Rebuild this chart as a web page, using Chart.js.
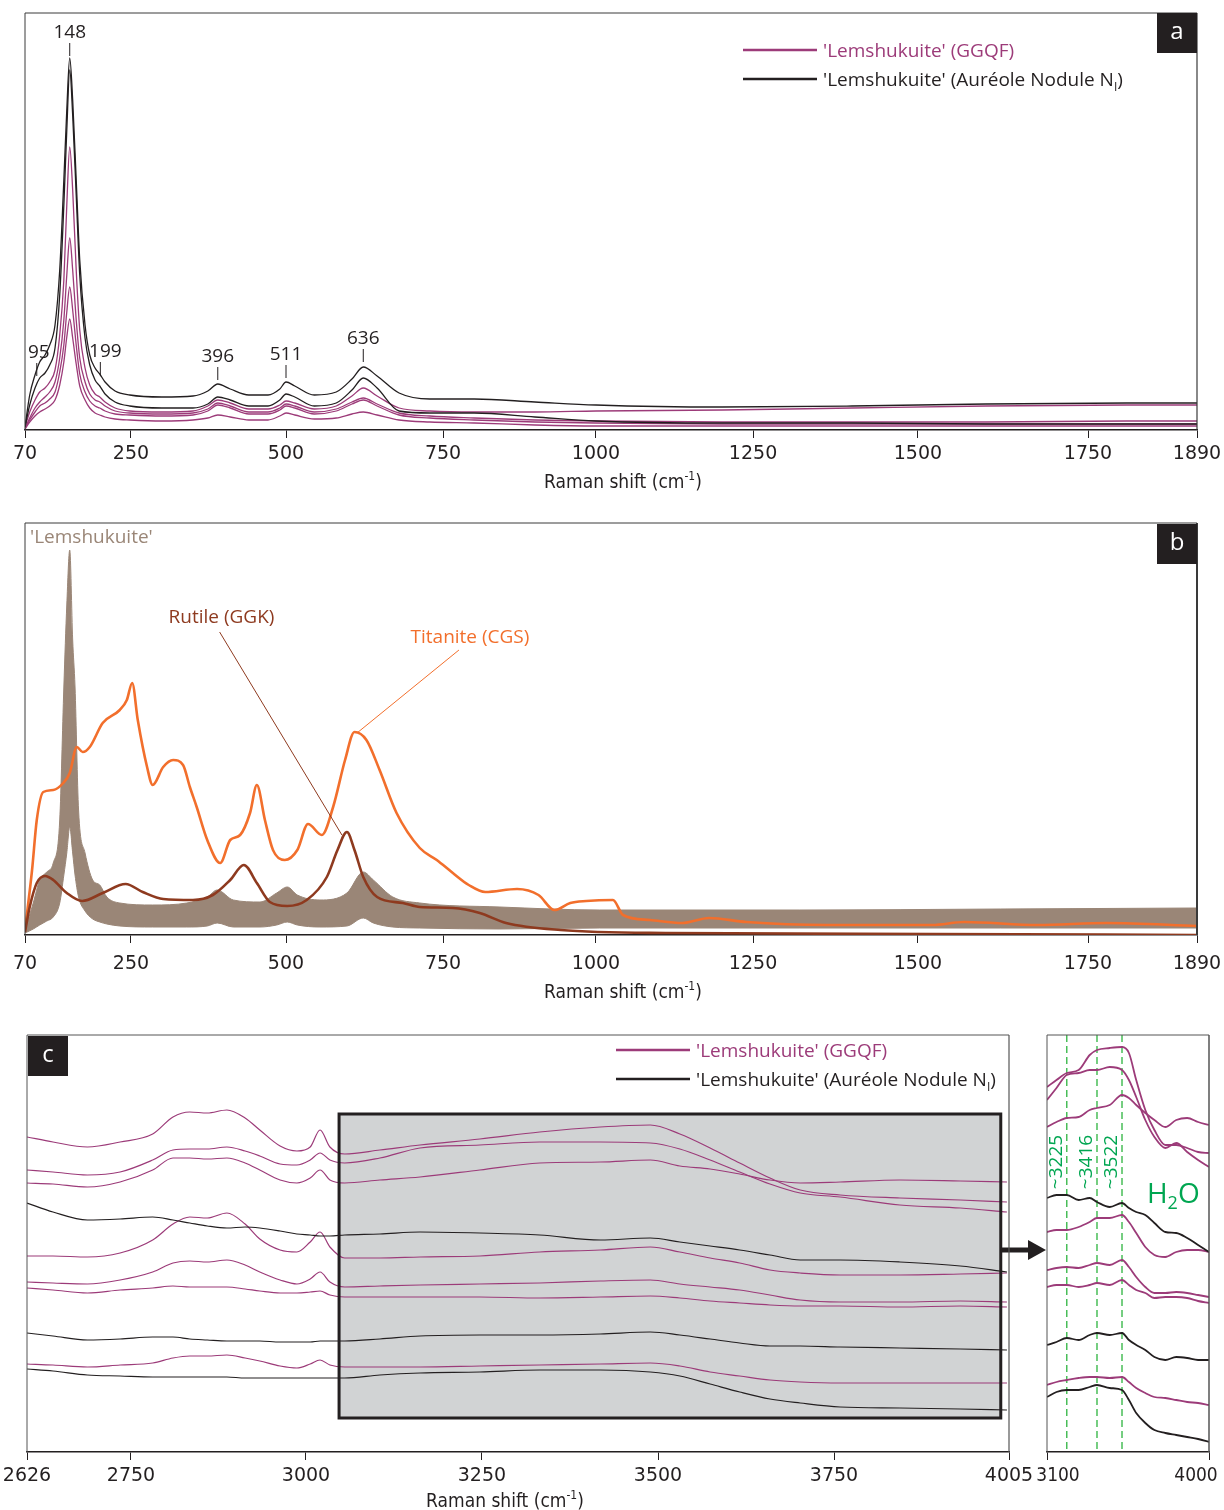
<!DOCTYPE html>
<html><head><meta charset="utf-8">
<script src="https://cdn.jsdelivr.net/npm/chart.js@4.4.1/dist/chart.umd.min.js"></script>
<style>
html,body{margin:0;padding:0;background:#fff;}
body{width:1224px;height:1510px;position:relative;overflow:hidden;}
canvas{position:absolute;}
</style></head><body>
<canvas id="ca" width="1224" height="500" style="left:0;top:0;width:1224px;height:500px"></canvas>
<canvas id="cb" width="1224" height="500" style="left:0;top:510px;width:1224px;height:500px"></canvas>
<canvas id="cc" width="1224" height="490" style="left:0;top:1020px;width:1224px;height:490px"></canvas>
<canvas id="cd" width="194" height="490" style="left:1030px;top:1020px;width:194px;height:490px"></canvas>
<script>
// ================= DATA =================
// tick labels
const ticksAB = [70, 250, 500, 750, 1000, 1250, 1500, 1750, 1890];
const ticksC = [2626, 2750, 3000, 3250, 3500, 3750, 4005];
const ticksInset = [3100, 4000];
const axisTitle = 'Raman shift (cm';

// ---- panel a : Raman shift (cm-1) and intensities (a.u.) ----
const shiftA = [70,78,87,95,104,112,121,129,136,141,146,151,157,163,172,180,189,197,206,223,248,300,350,374,390,410,440,471,490,500,514,545,580,605,623,645,680,729,801,900,1000,1201,1400,1600,1800,1890];
const aNodule1 = [3,35,55,68,75,85,105,160,250,320,372,330,250,170,105,75,62,56,48,39,35,33,34,39,46,41,35,35,41,48,44,35,38,51,63,54,37,31,31,28,25,23,24,26,27,27];
const aNodule2 = [3,25,42,52,57,65,82,135,225,300,360,315,235,155,92,65,50,44,36,28,24,22,22,26,33,30,24,24,30,36,33,24,27,40,52,42,19,17,17,13,9,7,7,6,6,6];
const aGGQF1 = [3,18,30,38,42,48,60,95,150,225,283,240,160,100,62,45,36,33,28,22,19,18,19,24,30,27,21,21,25,29,27,21,24,34,42,34,22,19,18,18,19,20,22,24,25,25];
const aGGQF2 = [2,12,22,28,33,38,48,72,110,155,192,160,110,72,48,36,30,28,24,19,17,16,17,21,27,24,18,18,22,26,24,18,21,28,32,26,17,14,12,10,9,8,8,8,9,9];
const aGGQF3 = [2,10,18,24,27,31,38,58,85,118,143,120,85,56,38,29,24,22,19,16,15,14,15,19,25,22,16,16,20,24,22,16,19,26,30,24,15,12,10,8,7,6,6,6,6,6];
const aGGQF4 = [1,8,14,18,21,24,30,45,68,93,111,92,66,44,30,22,17,15,13,11,10,9,10,12,15,13,10,10,14,17,15,11,12,16,18,15,10,8,7,5,4,4,4,4,4,4];
const peakText = ['95', '148', '199', '396', '511', '636'];
const peakShift = [90, 146, 198, 390, 500, 623];
const peakLevel = [77, 397, 78, 73, 75, 91];

// ---- panel b ----
const shiftBand = [70,84,95,107,118,129,136,141,146,151,155,161,172,185,197,209,231,285,340,373,389,415,458,485,502,518,554,597,623,639,670,713,843,1006,1321,1621,1890];
const lemMax = [5,32,55,63,72,115,248,330,385,295,248,125,82,55,50,38,32,30,32,38,45,35,33,42,48,40,35,42,63,55,38,32,28,25,25,26,27];
const lemMin = [2,6,10,14,18,32,60,82,108,82,60,38,24,16,13,11,9,8,8,9,12,8,8,10,13,10,8,9,17,12,8,7,6,7,7,7,7];
const shiftRutile = [70,78,90,104,118,141,167,202,241,269,302,350,382,410,432,453,474,502,533,565,582,597,609,623,645,686,713,766,810,853,942,1111,1521,1890];
const rutile = [3,28,52,59,55,42,34,42,51,43,36,35,40,55,70,52,33,29,35,58,85,103,85,58,38,32,28,27,22,12,5,2,1,0];
const shiftTitanite = [70,82,90,101,118,135,146,158,168,180,202,231,243,252,261,276,285,302,318,334,345,356,373,394,410,426,442,453,466,479,498,518,535,557,575,594,609,628,649,676,713,740,766,792,819,871,906,932,958,984,1027,1043,1086,1137,1180,1239,1361,1521,1568,1676,1774,1890];
const titanite = [5,65,115,143,145,152,162,188,183,188,212,225,235,252,215,168,150,168,175,170,148,128,95,72,95,100,122,150,115,85,75,85,111,100,128,175,203,195,165,122,87,75,62,50,43,46,40,25,32,34,35,20,15,12,17,13,10,10,13,10,12,9];

// ---- panel c (offset spectra, a.u.) ----
const shiftC = [2626,2657,2698,2737,2781,2810,2834,2859,2887,2913,2934,2963,2987,3006,3020,3034,3055,3105,3162,3247,3332,3418,3489,3531,3574,3616,3659,3702,3759,3846,3934,4002];
const cGGQF1 = [315,310,305,310,318,335,340,339,342,334,322,306,301,305,322,305,298,302,307,313,320,325,327,318,304,289,274,262,257,254,252,250];
const cGGQF2 = [282,280,277,280,292,302,303,303,305,301,296,288,287,292,299,292,289,294,304,307,310,310,309,303,292,280,268,259,255,247,244,240];
const cGGQF3 = [269,268,265,270,282,294,294,293,294,289,282,272,269,274,282,272,269,272,275,282,289,290,292,286,283,278,272,269,270,272,271,270];
const cNodule1 = [249,240,232,233,235,232,229,226,224,225,224,221,218,217,216,216,217,218,220,219,217,212,214,210,206,202,197,192,192,190,186,180];
const cGGQF4 = [196,196,195,199,212,228,235,234,239,228,213,202,200,210,220,205,194,194,195,196,200,202,205,200,194,189,182,179,177,177,178,179];
const cGGQF5 = [170,169,168,172,180,189,191,190,192,187,180,172,168,173,180,170,165,166,167,168,169,171,172,168,165,162,157,152,150,150,151,150];
const cGGQF6 = [164,162,159,162,164,166,165,165,165,163,161,159,159,160,161,157,155,155,155,155,154,155,156,154,151,149,147,146,146,145,146,145];
const cNodule2 = [119,116,112,113,115,115,113,112,111,111,111,110,110,110,111,111,111,113,116,117,117,118,120,117,113,109,106,106,105,104,103,102];
const cGGQF7 = [88,87,85,87,89,94,96,96,97,94,91,86,84,88,92,87,85,85,85,86,87,88,89,86,80,76,72,70,69,69,69,69];
const cNodule3 = [83,81,77,76,75,75,75,75,75,74,74,74,74,74,74,74,74,77,79,80,82,82,80,76,68,60,53,49,45,44,43,42];

// ---- panel c inset (H2O region, vertically expanded) ----
const shiftInset = [3100,3160,3225,3300,3370,3416,3470,3522,3560,3600,3650,3700,3760,3820,3880,3940,4000];
const iGGQF1 = [365,372,379,382,397,402,404,405,399,372,342,322,307,307,304,300,299];
const iGGQF2 = [352,364,377,379,382,382,385,382,372,355,332,315,304,309,300,292,285];
const iGGQF3 = [325,330,334,335,342,344,347,357,354,347,339,332,325,332,334,330,327];
const iNodule1 = [254,257,257,252,254,250,245,249,244,240,237,229,220,219,214,207,200];
const iGGQF4 = [220,222,222,225,230,234,234,237,230,219,205,197,195,200,202,202,200];
const iGGQF5 = [182,184,185,184,187,189,187,192,185,175,165,159,159,160,159,157,155];
const iGGQF6 = [165,167,167,165,167,169,167,172,167,162,159,154,155,155,154,151,149];
const iNodule2 = [107,110,114,112,117,119,117,119,112,107,102,95,92,95,94,92,92];
const iGGQF7 = [67,70,72,74,75,75,74,75,70,64,59,55,54,52,50,49,47];
const iNodule3 = [55,60,62,62,65,67,64,62,52,39,29,22,19,17,15,13,10];
const waterBands = [3225, 3416, 3522];
const waterText = ['~3225', '~3416', '~3522'];

// ================= STYLE / LAYOUT =================
const INK = '#231f20', MAG = '#9c3b79', TAUPE = '#9a8677', RUT = '#8e3a1f', TIT = '#f26f2c', GREEN = '#00a651', GDASH = '#3cb94c';
const NARROW = "'DejaVu Sans',sans-serif";
const SANS = "'Open Sans','Noto Sans',sans-serif";
Chart.defaults.font.family = SANS;

// axis tick pixel fractions as printed (the original axes are not uniformly spaced)
const WARP = {
  ca: {values: ticksAB, fr: [0, 0.0904, 0.2227, 0.3567, 0.4872, 0.6212, 0.7619, 0.9070, 1]},
  cb: {values: ticksAB, fr: [0, 0.0904, 0.2227, 0.3567, 0.4872, 0.6212, 0.7619, 0.9070, 1]},
  cc: {values: ticksC, fr: [0, 0.1059, 0.2841, 0.4633, 0.6426, 0.8218, 1]},
  cd: {values: [3100, 3416, 3522, 4000], fr: [0, 0.3086, 0.463, 1]}
};
function warpFrac(v, vals, fr) {
  const n = vals.length;
  let i = 1;
  while (i < n - 1 && v > vals[i]) i++;
  const t = (v - vals[i - 1]) / (vals[i] - vals[i - 1]);
  return fr[i - 1] + t * (fr[i] - fr[i - 1]);
}
function warpInv(f, vals, fr) {
  const n = fr.length;
  let i = 1;
  while (i < n - 1 && f > fr[i]) i++;
  const t = (f - fr[i - 1]) / (fr[i] - fr[i - 1]);
  return vals[i - 1] + t * (vals[i] - vals[i - 1]);
}
class WarpScale extends Chart.LinearScale {
  static id = 'warp';
  static defaults = Object.assign({}, Chart.LinearScale.defaults);
  getPixelForValue(value) {
    const w = WARP[this.chart.canvas.id];
    if (!w || value === null || value === undefined || isNaN(value)) return super.getPixelForValue(value);
    return this.getPixelForDecimal(warpFrac(value, w.values, w.fr));
  }
  getValueForPixel(pixel) {
    const w = WARP[this.chart.canvas.id];
    if (!w) return super.getValueForPixel(pixel);
    return warpInv(this.getDecimalForPixel(pixel), w.values, w.fr);
  }
}
Chart.register(WarpScale);

function series(xs, ys, color, width, extra) {
  return Object.assign({
    data: xs.map((x, i) => ({x: x, y: ys[i]})),
    borderColor: color, backgroundColor: color, borderWidth: width,
    pointRadius: 0, fill: false, cubicInterpolationMode: 'monotone'
  }, extra || {});
}

function xScale(ticks, o) {
  return {
    type: 'warp', min: ticks[0], max: ticks[ticks.length - 1],
    afterBuildTicks: s => { s.ticks = ticks.map(v => ({value: v})); },
    afterFit: s => { s.height = o.height; s.paddingLeft = 0; s.paddingRight = 0; },
    ticks: {display: o.labels !== false, autoSkip: false, maxRotation: 0, minRotation: 0,
      padding: o.labelPad, color: INK, font: {family: NARROW, size: 19, style: 'condensed'}, callback: v => String(v)},
    grid: {display: true, drawOnChartArea: false, drawTicks: true, tickLength: 8, color: INK, lineWidth: 1},
    border: {display: true, color: INK, width: 1.5},
    title: {display: false}
  };
}

function makeChart(id, datasets, x, yMax, padding, plugin) {
  return new Chart(document.getElementById(id), {
    type: 'line',
    data: {datasets: datasets},
    options: {
      responsive: false, animation: false, devicePixelRatio: 1, events: [],
      layout: {padding: padding},
      plugins: {legend: {display: false}, tooltip: {enabled: false}, title: {display: false}},
      scales: {x: x, y: {display: false, min: 0, max: yMax}}
    },
    plugins: [plugin]
  });
}

// ---------- drawing helpers ----------
function frame(ctx, a, color, rw) {
  ctx.save();
  ctx.strokeStyle = color || '#3a3a3a'; ctx.lineWidth = 1;
  ctx.beginPath();
  ctx.moveTo(a.left, a.bottom); ctx.lineTo(a.left, a.top); ctx.lineTo(a.right, a.top);
  ctx.stroke();
  ctx.lineWidth = rw || 1;
  ctx.beginPath(); ctx.moveTo(a.right, a.top); ctx.lineTo(a.right, a.bottom); ctx.stroke();
  ctx.restore();
}
function text(ctx, s, x, y, size, color, align, base, fontStr) {
  ctx.save();
  ctx.font = fontStr || (size + 'px ' + SANS);
  ctx.fillStyle = color; ctx.textAlign = align || 'center'; ctx.textBaseline = base || 'middle';
  ctx.fillText(s, x, y);
  ctx.restore();
}
function rich(ctx, parts, x, y, color, align) {
  ctx.save();
  ctx.fillStyle = color; ctx.textAlign = 'left'; ctx.textBaseline = 'alphabetic';
  let total = 0;
  parts.forEach(p => { ctx.font = p.font || (p.size + 'px ' + SANS); total += ctx.measureText(p.t).width; });
  let cx = align === 'center' ? x - total / 2 : x;
  parts.forEach(p => {
    ctx.font = p.font || (p.size + 'px ' + SANS);
    ctx.fillText(p.t, cx, y + (p.dy || 0));
    cx += ctx.measureText(p.t).width;
  });
  ctx.restore();
}
function xTitle(ctx, cx, cy) {
  rich(ctx, [
    {t: axisTitle, font: "condensed 19px " + NARROW},
    {t: '-1', font: "condensed 12px " + NARROW, dy: -8},
    {t: ')', font: "condensed 19px " + NARROW}
  ], cx, cy + 7, INK, 'center');
}
function legend(ctx, x, y) {
  ctx.save();
  ctx.lineWidth = 2.4;
  ctx.strokeStyle = MAG; ctx.beginPath(); ctx.moveTo(x, y); ctx.lineTo(x + 74, y); ctx.stroke();
  ctx.strokeStyle = INK; ctx.beginPath(); ctx.moveTo(x, y + 29); ctx.lineTo(x + 74, y + 29); ctx.stroke();
  ctx.restore();
  rich(ctx, [{t: "'Lemshukuite' (GGQF)", size: 19}], x + 80, y + 7, MAG);
  rich(ctx, [{t: "'Lemshukuite' (Auréole Nodule N", size: 19}, {t: 'I', size: 12, dy: 5}, {t: ')', size: 19}], x + 80, y + 36, INK);
}
function letter(ctx, s, x, y) {
  ctx.save(); ctx.fillStyle = INK; ctx.fillRect(x, y, 40, 40); ctx.restore();
  text(ctx, s, x + 20, y + 19, 24, '#ffffff');
}

// ---------- panel a ----------
const peakTextNudge = [2, 0, 5, 0, 0, 0]; // horizontal text offsets (px) as printed
const annA = {
  id: 'annA',
  afterDraw(chart) {
    const ctx = chart.ctx, a = chart.chartArea, X = v => chart.scales.x.getPixelForValue(v), Y = v => chart.scales.y.getPixelForValue(v);
    frame(ctx, a, '#3a3a3a', 1.2);
    peakText.forEach((s, i) => {
      const px = X(peakShift[i]), py = Y(peakLevel[i]);
      text(ctx, s, px + peakTextNudge[i], py, 19, INK);
      ctx.save(); ctx.strokeStyle = INK; ctx.lineWidth = 1;
      ctx.beginPath(); ctx.moveTo(px, py + 10); ctx.lineTo(px, py + 23); ctx.stroke(); ctx.restore();
    });
    legend(ctx, 743, 50);
    letter(ctx, 'a', a.right - 40, a.top);
    xTitle(ctx, 623, 481);
  }
};
makeChart('ca', [
  series(shiftA, aNodule1, INK, 1.3), series(shiftA, aNodule2, INK, 1.3),
  series(shiftA, aGGQF1, MAG, 1.3), series(shiftA, aGGQF2, MAG, 1.3),
  series(shiftA, aGGQF3, MAG, 1.3), series(shiftA, aGGQF4, MAG, 1.3)
], xScale(ticksAB, {height: 70, labelPad: 5}), 417,
  {left: 25, right: 27, top: 13, bottom: 0}, annA);

// ---------- panel b ----------
const annB = {
  id: 'annB',
  afterDraw(chart) {
    const ctx = chart.ctx, a = chart.chartArea, X = v => chart.scales.x.getPixelForValue(v), Y = v => chart.scales.y.getPixelForValue(v);
    frame(ctx, a, '#3a3a3a', 2);
    text(ctx, "'Lemshukuite'", a.left + 5, a.top + 15, 19, TAUPE, 'left');
    text(ctx, 'Rutile (GGK)', X(396), Y(317), 19, RUT);
    text(ctx, 'Titanite (CGS)', X(794), Y(297), 19, TIT);
    ctx.save(); ctx.lineWidth = 1;
    ctx.strokeStyle = RUT; ctx.beginPath(); ctx.moveTo(X(393), Y(303)); ctx.lineTo(X(589), Y(100)); ctx.stroke();
    ctx.strokeStyle = TIT; ctx.beginPath(); ctx.moveTo(X(776), Y(285)); ctx.lineTo(X(613), Y(202)); ctx.stroke();
    ctx.restore();
    letter(ctx, 'b', a.right - 40, a.top + 1);
    xTitle(ctx, 623, 481);
  }
};
makeChart('cb', [
  series(shiftRutile, rutile, RUT, 2.6),
  series(shiftTitanite, titanite, TIT, 2.6),
  series(shiftBand, lemMax, TAUPE, 1, {fill: '+1', backgroundColor: TAUPE}),
  series(shiftBand, lemMin, TAUPE, 1)
], xScale(ticksAB, {height: 75, labelPad: 10}), 412,
  {left: 25, right: 27, top: 13, bottom: 0}, annB);

// ---------- panel c ----------
const boxC = {x0: 3047, x1: 3993, y0: 34, y1: 338};
const annC = {
  id: 'annC',
  beforeDatasetsDraw(chart) {
    const ctx = chart.ctx, X = v => chart.scales.x.getPixelForValue(v), Y = v => chart.scales.y.getPixelForValue(v);
    ctx.save(); ctx.fillStyle = '#d1d3d4';
    ctx.fillRect(X(boxC.x0), Y(boxC.y1), X(boxC.x1) - X(boxC.x0), Y(boxC.y0) - Y(boxC.y1));
    ctx.restore();
  },
  afterDatasetsDraw(chart) {
    const ctx = chart.ctx, X = v => chart.scales.x.getPixelForValue(v), Y = v => chart.scales.y.getPixelForValue(v);
    ctx.save(); ctx.strokeStyle = INK; ctx.lineWidth = 3;
    ctx.strokeRect(X(boxC.x0), Y(boxC.y1), X(boxC.x1) - X(boxC.x0), Y(boxC.y0) - Y(boxC.y1));
    // arrow to the inset
    const ax0 = X(boxC.x1), ax1 = chart.chartArea.right + 37, ay = Y(202);
    ctx.lineWidth = 5; ctx.beginPath(); ctx.moveTo(ax0, ay); ctx.lineTo(ax1 - 14, ay); ctx.stroke();
    ctx.fillStyle = INK; ctx.beginPath(); ctx.moveTo(ax1 - 18, ay - 10); ctx.lineTo(ax1, ay); ctx.lineTo(ax1 - 18, ay + 10); ctx.closePath(); ctx.fill();
    ctx.restore();
  },
  afterDraw(chart) {
    const ctx = chart.ctx, a = chart.chartArea;
    frame(ctx, a, '#555555', 1.2);
    legend(ctx, 616, 30);
    letter(ctx, 'c', a.left + 1, a.top + 1);
    xTitle(ctx, 505, 480);
  }
};
makeChart('cc', [
  series(shiftC, cGGQF1, MAG, 1.2), series(shiftC, cGGQF2, MAG, 1.2), series(shiftC, cGGQF3, MAG, 1.2),
  series(shiftC, cNodule1, INK, 1.2), series(shiftC, cGGQF4, MAG, 1.2), series(shiftC, cGGQF5, MAG, 1.2),
  series(shiftC, cGGQF6, MAG, 1.2), series(shiftC, cNodule2, INK, 1.2), series(shiftC, cGGQF7, MAG, 1.2),
  series(shiftC, cNodule3, INK, 1.2)
], xScale(ticksC, {height: 58, labelPad: 5}), 417,
  {left: 27, right: 215, top: 15, bottom: 0}, annC);

// ---------- panel c inset ----------
const annD = {
  id: 'annD',
  beforeDatasetsDraw(chart) {
    const ctx = chart.ctx, a = chart.chartArea, X = v => chart.scales.x.getPixelForValue(v);
    ctx.save(); ctx.strokeStyle = GDASH; ctx.lineWidth = 1.4; ctx.setLineDash([7, 4]);
    waterBands.forEach(v => { ctx.beginPath(); ctx.moveTo(X(v), a.top); ctx.lineTo(X(v), a.bottom); ctx.stroke(); });
    ctx.restore();
  },
  afterDraw(chart) {
    const ctx = chart.ctx, a = chart.chartArea, X = v => chart.scales.x.getPixelForValue(v), Y = v => chart.scales.y.getPixelForValue(v);
    frame(ctx, a, '#555555', 1.5);
    waterBands.forEach((v, i) => {
      ctx.save(); ctx.translate(X(v) - 10, Y(290)); ctx.rotate(-Math.PI / 2);
      text(ctx, waterText[i], 0, 0, 19, GREEN);
      ctx.restore();
    });
    rich(ctx, [{t: 'H', size: 28}, {t: '2', size: 18, dy: 6}, {t: 'O', size: 28}], X(3659), Y(249), GREEN);
    const ly = a.bottom + 24, f = 'condensed 19px ' + NARROW;
    text(ctx, String(ticksInset[0]), X(ticksInset[0]) + 11, ly, 19, INK, 'center', 'middle', f);
    text(ctx, String(ticksInset[1]), X(ticksInset[1]) - 13, ly, 19, INK, 'center', 'middle', f);
  }
};
makeChart('cd', [
  series(shiftInset, iGGQF1, MAG, 1.8), series(shiftInset, iGGQF2, MAG, 1.8), series(shiftInset, iGGQF3, MAG, 1.8),
  series(shiftInset, iNodule1, INK, 1.8), series(shiftInset, iGGQF4, MAG, 1.8), series(shiftInset, iGGQF5, MAG, 1.8),
  series(shiftInset, iGGQF6, MAG, 1.8), series(shiftInset, iNodule2, INK, 1.8), series(shiftInset, iGGQF7, MAG, 1.8),
  series(shiftInset, iNodule3, INK, 1.8)
], xScale(ticksInset, {height: 58, labelPad: 5, labels: false}), 417,
  {left: 17, right: 15, top: 15, bottom: 0}, annD);
</script></body></html>
